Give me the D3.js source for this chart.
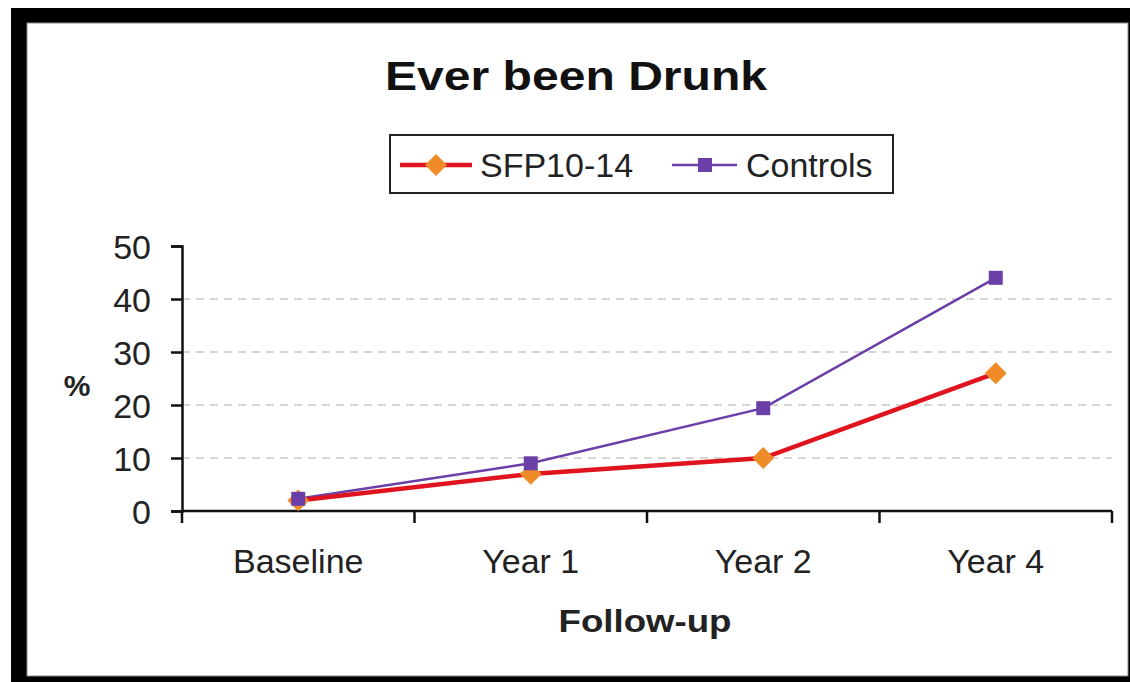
<!DOCTYPE html>
<html>
<head>
<meta charset="utf-8">
<script src="https://cdn.jsdelivr.net/npm/d3@7"></script>
<style>
  body { margin: 0; background: #fff; }
  text { font-family: "Liberation Sans", Arial, sans-serif; fill: #222; }
</style>
</head>
<body>
<svg id="target"></svg>
<script>
// Chart data
let categories = ["Baseline", "Year 1", "Year 2", "Year 4"];
let sfpValues = [2, 7, 10, 26];
let controlValues = [2.3, 9, 19.4, 44];
let yTicks = [0, 10, 20, 30, 40, 50];

let W = 1130, H = 682;
let plot = {left: 182, right: 1112, top: 246, bottom: 511};

function main() {
    let svg = d3.select("#target")
        .attr("width", W)
        .attr("height", H);

    // Black outer frame with white panel
    svg.append("rect")
        .attr("x", 11).attr("y", 8)
        .attr("width", W - 11).attr("height", H - 8)
        .attr("fill", "#000");
    svg.append("rect")
        .attr("x", 27).attr("y", 23)
        .attr("width", 1101).attr("height", 653)
        .attr("fill", "#fff")
        .attr("stroke", "#888").attr("stroke-width", 1);

    // Title
    svg.append("text")
        .attr("x", 576).attr("y", 90)
        .attr("text-anchor", "middle")
        .attr("font-size", 40).attr("font-weight", "bold")
        .attr("textLength", 382).attr("lengthAdjust", "spacingAndGlyphs")
        .style("fill", "#111")
        .text("Ever been Drunk");

    // Scales
    let x = d3.scaleBand()
        .domain(categories)
        .range([plot.left, plot.right]);
    let y = d3.scaleLinear()
        .domain([0, 50])
        .range([plot.bottom, plot.top]);

    // Dashed gridlines
    svg.append("g")
        .selectAll("line")
        .data(yTicks.filter(t => t > 0 && t < 50))
        .enter()
        .append("line")
        .attr("x1", plot.left).attr("x2", plot.right)
        .attr("y1", d => y(d)).attr("y2", d => y(d))
        .attr("stroke", "#c8c8c8")
        .attr("stroke-width", 1.5)
        .attr("stroke-dasharray", "8,6");

    // Y axis
    let yAxis = svg.append("g")
        .attr("transform", "translate(" + plot.left + ",0)")
        .call(d3.axisLeft(y).tickValues(yTicks).tickSize(11).tickPadding(20));
    yAxis.select(".domain").attr("stroke", "#111").attr("stroke-width", 2.5);
    yAxis.selectAll(".tick line").attr("stroke", "#111").attr("stroke-width", 2.5);
    yAxis.selectAll(".tick text")
        .attr("font-size", 34)
        .attr("font-family", "Liberation Sans, Arial, sans-serif")
        .attr("dy", "0.36em")
        .style("fill", "#222");

    // X axis with ticks between categories
    let xAxisG = svg.append("g")
        .attr("transform", "translate(0," + plot.bottom + ")");
    xAxisG.append("line")
        .attr("x1", plot.left).attr("x2", plot.right)
        .attr("stroke", "#111").attr("stroke-width", 2.5);
    let edges = categories.map(c => x(c)).concat([plot.right]);
    xAxisG.selectAll(".edge")
        .data(edges)
        .enter()
        .append("line")
        .attr("x1", d => d).attr("x2", d => d)
        .attr("y1", 0).attr("y2", 12)
        .attr("stroke", "#111").attr("stroke-width", 2.5);
    xAxisG.selectAll(".lbl")
        .data(categories)
        .enter()
        .append("text")
        .attr("x", d => x(d) + x.bandwidth() / 2)
        .attr("y", 62)
        .attr("text-anchor", "middle")
        .attr("font-size", 34)
        .text(d => d);

    // Axis titles
    svg.append("text")
        .attr("x", 645).attr("y", 632)
        .attr("text-anchor", "middle")
        .attr("font-size", 32).attr("font-weight", "bold")
        .attr("textLength", 173).attr("lengthAdjust", "spacingAndGlyphs")
        .text("Follow-up");
    svg.append("text")
        .attr("x", 77).attr("y", 396)
        .attr("text-anchor", "middle")
        .attr("font-size", 30).attr("font-weight", "bold")
        .text("%");

    let cx = (d, i) => x(categories[i]) + x.bandwidth() / 2;
    let line = d3.line()
        .x((d, i) => cx(d, i))
        .y(d => y(d));

    // Controls series
    svg.append("path")
        .datum(controlValues)
        .attr("d", line)
        .attr("fill", "none")
        .attr("stroke", "#6b3fa8")
        .attr("stroke-width", 2.5);

    // SFP10-14 series
    svg.append("path")
        .datum(sfpValues)
        .attr("d", line)
        .attr("fill", "none")
        .attr("stroke", "#e0141e")
        .attr("stroke-width", 4.5);

    let diamond = d3.symbol().type(d3.symbolSquare).size(240);
    svg.append("g")
        .selectAll("path")
        .data(sfpValues)
        .enter()
        .append("path")
        .attr("d", diamond)
        .attr("transform", (d, i) => "translate(" + cx(d, i) + "," + y(d) + ") rotate(45)")
        .attr("fill", "#f08c28");

    svg.append("g")
        .selectAll("rect")
        .data(controlValues)
        .enter()
        .append("rect")
        .attr("x", (d, i) => cx(d, i) - 7)
        .attr("y", d => y(d) - 7)
        .attr("width", 14).attr("height", 14)
        .attr("fill", "#6b3fa8");

    // Legend
    let lg = svg.append("g");
    lg.append("rect")
        .attr("x", 390).attr("y", 135)
        .attr("width", 503).attr("height", 58)
        .attr("fill", "#fff")
        .attr("stroke", "#222").attr("stroke-width", 2);
    lg.append("line")
        .attr("x1", 400).attr("x2", 472)
        .attr("y1", 165).attr("y2", 165)
        .attr("stroke", "#e0141e").attr("stroke-width", 4.5);
    lg.append("path")
        .attr("d", diamond)
        .attr("transform", "translate(436,165) rotate(45)")
        .attr("fill", "#f08c28");
    lg.append("text")
        .attr("x", 480).attr("y", 177)
        .attr("font-size", 34)
        .text("SFP10-14");
    lg.append("line")
        .attr("x1", 672).attr("x2", 737)
        .attr("y1", 165).attr("y2", 165)
        .attr("stroke", "#6b3fa8").attr("stroke-width", 2.5);
    lg.append("rect")
        .attr("x", 698).attr("y", 158)
        .attr("width", 14).attr("height", 14)
        .attr("fill", "#6b3fa8");
    lg.append("text")
        .attr("x", 746).attr("y", 177)
        .attr("font-size", 34)
        .text("Controls");
}

main();
</script>
</body>
</html>
